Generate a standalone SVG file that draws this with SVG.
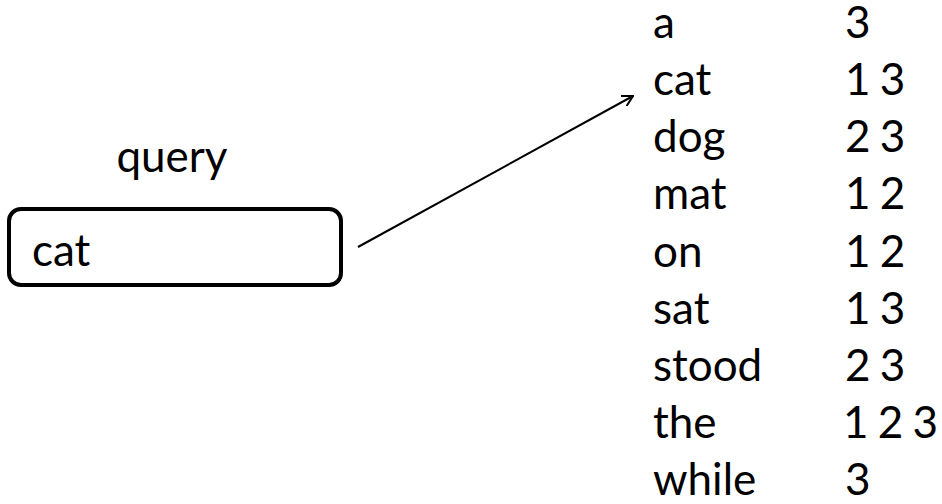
<svg xmlns="http://www.w3.org/2000/svg" width="942" height="504" viewBox="0 0 942 504">
<style>
text{font-family:Lato,"Open Sans",sans-serif;font-size:44px;fill:#000}
.num{word-spacing:-2px}
.box{fill:#fff;stroke:#000;stroke-width:4}
.edge{fill:none;stroke:#000;stroke-width:2}
</style>
<defs>
<marker id="arr" viewBox="0 0 12 12" refX="11" refY="6" markerWidth="12" markerHeight="12" markerUnits="userSpaceOnUse" orient="auto">
<path d="M0,0 L11,6 L0,12" fill="none" stroke="#000" stroke-width="2"/>
</marker>
</defs>
<rect width="942" height="504" fill="#fff"/>
<g id="query-label"><text x="172" y="172" text-anchor="middle">query</text></g>
<g id="query-box"><rect class="box" x="9" y="209" width="332" height="76" rx="12"/><text x="32" y="266">cat</text></g>
<g id="connectors"><path class="edge" d="M358,247 L633,96" marker-end="url(#arr)"/></g>
<g id="index">
<text x="653" y="38">a</text><text class="num" x="845" y="38">3</text>
<text x="653" y="95">cat</text><text class="num" x="845" y="95">1 3</text>
<text x="653" y="152">dog</text><text class="num" x="845" y="152">2 3</text>
<text x="653" y="209">mat</text><text class="num" x="845" y="209">1 2</text>
<text x="653" y="267">on</text><text class="num" x="845" y="267">1 2</text>
<text x="653" y="324">sat</text><text class="num" x="845" y="324">1 3</text>
<text x="653" y="381">stood</text><text class="num" x="845" y="381">2 3</text>
<text x="653" y="438">the</text><text class="num" x="843" y="438">1 2 3</text>
<text x="653" y="495">while</text><text class="num" x="845" y="495">3</text>
</g>
</svg>
